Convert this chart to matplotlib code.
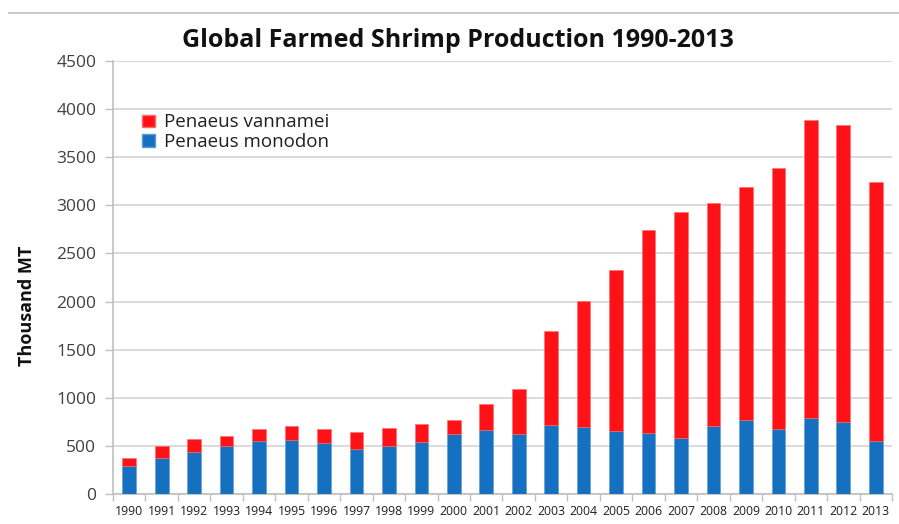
import numpy as np
import matplotlib
matplotlib.use("Agg")
import matplotlib.pyplot as plt
from matplotlib.lines import Line2D
from matplotlib.patches import Patch

# production in thousand metric tonnes
years = [str(y) for y in range(1990, 2014)]
monodon = [290, 378, 437, 499, 554, 562, 534, 471, 499, 541, 627, 666,
           621, 714, 700, 658, 631, 586, 710, 770, 679, 790, 752, 548]
totals = [372, 496, 569, 603, 679, 707, 673, 648, 690, 731, 766, 935,
          1092, 1698, 2010, 2326, 2748, 2932, 3023, 3192, 3387, 3886, 3830, 3247]
vannamei = [t - m for t, m in zip(totals, monodon)]

red = "#FF1217"
blue = "#1570C0"
grid_col = "#D4D4D4"
txt_col = "#404040"

plt.rcParams["font.family"] = ["Open Sans", "DejaVu Sans"]

fig = plt.figure(figsize=(8.99, 5.24), dpi=100)
ax = fig.add_axes([0.1257, 0.0573, 0.8665, 0.8263])

x = np.arange(len(years))
ax.bar(x, monodon, width=0.42, color=blue, edgecolor="#5A9BD5", linewidth=0.4, zorder=3)
ax.bar(x, vannamei, width=0.42, bottom=monodon, color=red, edgecolor="#FF6A6A",
       linewidth=0.4, zorder=3)

ax.set_xlim(-0.5, len(years) - 0.5)
ax.set_ylim(0, 4500)
ax.set_yticks(range(0, 4501, 500))
ax.yaxis.grid(True, color=grid_col, linewidth=1.2, zorder=0)
ax.set_axisbelow(True)

ax.set_xticks(x)
ax.set_xticklabels(years, fontsize=8.8, color="#202020")
ax.set_xticks(np.arange(-0.5, len(years)), minor=True)
ax.tick_params(axis="x", which="major", length=0, pad=8)
ax.tick_params(axis="x", which="minor", length=5, color="#BFBFBF", width=1)
ax.tick_params(axis="y", length=6, color="#BFBFBF", width=1, labelsize=12.5,
               labelcolor=txt_col, pad=6)

for side in ("top", "right"):
    ax.spines[side].set_visible(False)
for side in ("left", "bottom"):
    ax.spines[side].set_color("#BFBFBF")
    ax.spines[side].set_linewidth(1.2)

ax.set_ylabel("Thousand MT", fontsize=13, fontweight="bold", color="#111111")
ax.yaxis.set_label_coords(-0.099, 0.435)

fig.text(0.509, 0.923, "Global Farmed Shrimp Production 1990-2013", ha="center",
         va="center", fontsize=18, fontweight="bold", color="#111111")

# thin rule across the top of the slide
fig.add_artist(Line2D([0.01, 1.0], [0.975, 0.975], color="#BFBFBF", linewidth=1.2))

handles = [Patch(facecolor=red, edgecolor="#FF6A6A", label="Penaeus vannamei"),
           Patch(facecolor=blue, edgecolor="#5A9BD5", label="Penaeus monodon")]
ax.legend(handles=handles, loc="upper left", bbox_to_anchor=(0.016, 0.918),
          frameon=False, fontsize=13.5, handlelength=0.65, handleheight=0.65,
          handletextpad=0.5, labelspacing=0.1, labelcolor="#202020")

fig.savefig("out.png", dpi=100)
